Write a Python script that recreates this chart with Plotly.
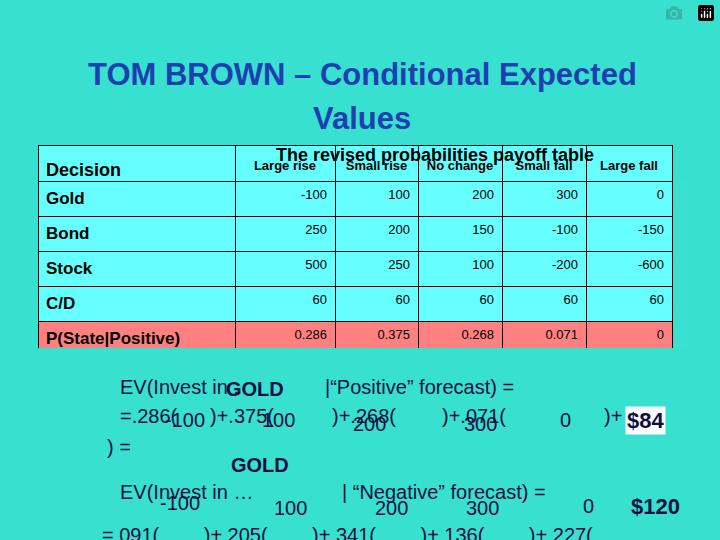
import plotly.graph_objects as go

decisions = ["Gold", "Bond", "Stock", "C/D", "P(State|Positive)", "P(State|negative)"]
states = ["Large rise", "Small rise", "No change", "Small fall", "Large fall"]
large_rise = ["-100", "250", "500", "60", "0.286", "0.091"]
small_rise = ["100", "200", "250", "60", "0.375", "0.205"]
no_change = ["200", "150", "100", "60", "0.268", "0.341"]
small_fall = ["300", "-100", "-200", "60", "0.071", "0.136"]
large_fall = ["0", "-150", "-600", "60", "0", "0.227"]

W, H = 720, 540
cyan, pink = "#66ffff", "#ff8080"
rowfill = [cyan]*4 + [pink]*2

fig = go.Figure(go.Table(
    domain=dict(x=[38/W, 672/W], y=[1-349/H, 1-145/H]),
    columnwidth=[197, 100, 83, 84, 84, 86],
    header=dict(values=["<br><b>Decision</b>"] + [f"<br><b>{s}</b>" for s in states],
                fill_color=cyan, line=dict(color="black", width=1), height=20,
                align=["left", "center"],
                font=dict(family="Liberation Sans", size=[18, 13], color="black")),
    cells=dict(values=[[f"<b>{d}</b>" for d in decisions], large_rise, small_rise, no_change, small_fall, large_fall],
               fill_color=[rowfill]*6, line=dict(color="black", width=1), height=20,
               align=["left", "right"],
               font=dict(family="Liberation Sans", size=[17, 13], color="black")),
))

anns = [
    dict(x=362, y=75, text="<b>TOM BROWN – Conditional Expected</b>", size=31, color="#1f3fb0"),
    dict(x=362, y=118, text="<b>Values</b>", size=31, color="#1f3fb0"),
    dict(x=435, y=155, text="<b>The revised probabilities payoff table</b>", size=18, color="black"),
]
navy = "#101040"
lower = [
    (118, 387, "EV(Invest in .", 20, False, "left"),
    (255, 389, "GOLD", 20, True, "center"),
    (323, 387, "|“Positive” forecast) =", 20, False, "left"),
    (118, 416, "=.286(", 20, False, "left"),
    (185, 420, "-100", 20, False, "center"),
    (208, 416, ")+.375(", 20, False, "left"),
    (278, 420, "100", 20, False, "center"),
    (330, 416, ")+.268(", 20, False, "left"),
    (370, 424, "200", 20, False, "center"),
    (440, 416, ")+.071(", 20, False, "left"),
    (480, 424, "300", 20, False, "center"),
    (565, 420, "0", 20, False, "center"),
    (602, 416, ")+", 20, False, "left"),
    (105, 447, ") =", 20, False, "left"),
    (260, 465, "GOLD", 20, True, "center"),
    (118, 492, "EV(Invest in …", 20, False, "left"),
    (180, 503, "-100", 20, False, "center"),
    (290, 508, "100", 20, False, "center"),
    (340, 492, "| “Negative” forecast) =", 20, False, "left"),
    (392, 508, "200", 20, False, "center"),
    (483, 508, "300", 20, False, "center"),
    (588, 506, "0", 20, False, "center"),
    (100, 535, "= 091(        )+ 205(        )+ 341(        )+ 136(        )+ 227(", 20, False, "left"),
]
annotations = []
for a in anns:
    annotations.append(dict(x=a["x"]/W, y=1-a["y"]/H, xref="paper", yref="paper", showarrow=False,
                            xanchor="center", yanchor="middle",
                            text=a["text"], font=dict(family="Liberation Sans", size=a["size"], color=a["color"])))
for x, y, t, s, b, al in lower:
    annotations.append(dict(x=x/W, y=1-y/H, xref="paper", yref="paper", showarrow=False, xanchor=al,
                            yanchor="middle", text=f"<b>{t}</b>" if b else t,
                            font=dict(family="Liberation Sans", size=s, color=navy)))
annotations.append(dict(x=645/W, y=1-420/H, xref="paper", yref="paper", showarrow=False, text="<b>$84</b>",
                        xanchor="center", yanchor="middle",
                        bgcolor="white", font=dict(family="Liberation Sans", size=22, color=navy)))
annotations.append(dict(x=655/W, y=1-506/H, xref="paper", yref="paper", showarrow=False, text="<b>$120</b>",
                        xanchor="center", yanchor="middle",
                        font=dict(family="Liberation Sans", size=22, color=navy)))

fig.update_layout(width=W, height=H, margin=dict(l=0, r=0, t=0, b=0),
                  paper_bgcolor="#38e0d0", plot_bgcolor="#38e0d0", annotations=annotations)
fig.write_html("out.html", post_script="document.body.style.margin='0';document.body.style.background='#38e0d0';")
